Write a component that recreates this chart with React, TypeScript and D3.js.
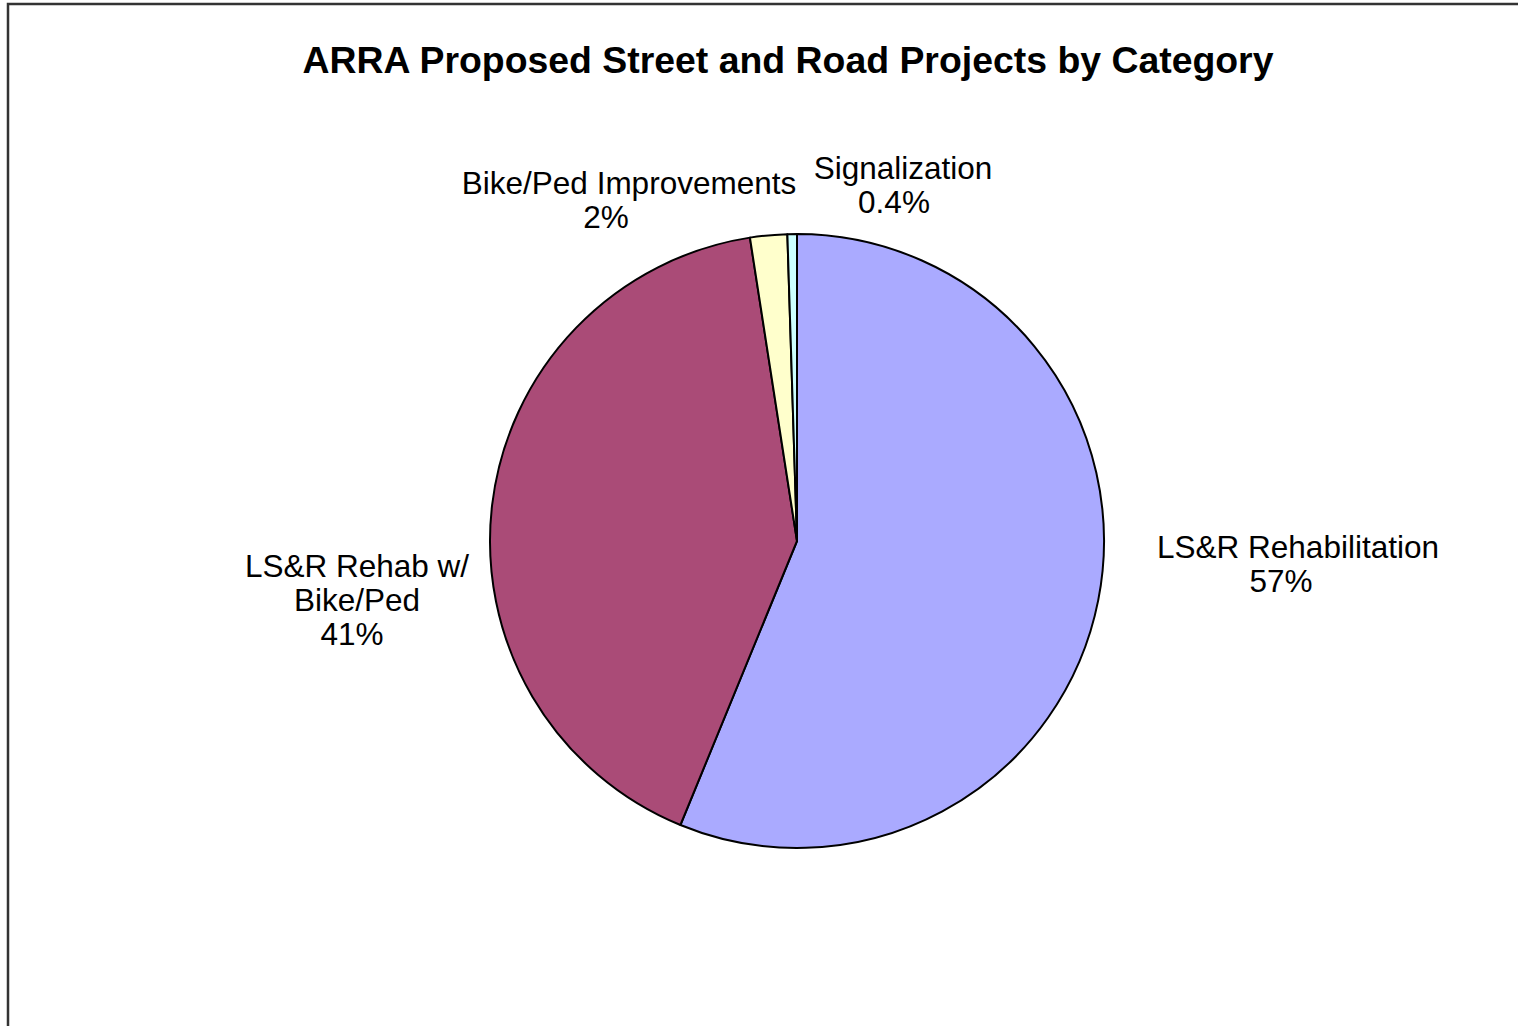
import * as d3 from "d3";

// slice values (angles), with the percentages the chart prints
const categories = ["LS&R Rehabilitation", "LS&R Rehab w/ Bike/Ped", "Bike/Ped Improvements", "Signalization"];
const nameLines = [["LS&R Rehabilitation"], ["LS&R Rehab w/", "Bike/Ped"], ["Bike/Ped Improvements"], ["Signalization"]];
const values = [56.2, 41.35, 1.95, 0.5];
const pctLabels = ["57%", "41%", "2%", "0.4%"];
const colors = ["#AAAAFF", "#AA4B77", "#FFFFCC", "#CCFFFF"];

const W = 1518, H = 1026;
const CX = 797, CY = 541, R = 307;
const FONT = "'Liberation Sans', Arial, sans-serif";
const LINE = 34;

// label block placement relative to pie centre: first baseline + shift of the % line
const labelLayout = [
  { dx: 501, dy: 17, pctDx: -17 },
  { dx: -440, dy: 36, pctDx: -5 },
  { dx: -168, dy: -347, pctDx: -23 },
  { dx: 106, dy: -362, pctDx: -9 },
];

export default function App() {
  const data = categories.map((c, i) => ({ name: c, value: values[i], i }));
  const pie = d3.pie<(typeof data)[number]>().sort(null).value((d) => d.value);
  const arcs = pie(data);
  const arc = d3.arc<d3.PieArcDatum<(typeof data)[number]>>().innerRadius(0).outerRadius(R);

  return (
    <>
      <style>{`body{margin:0;}`}</style>
      <svg width={W} height={H} style={{ display: "block" }}>
        <rect x={0} y={0} width={W} height={H} fill="#fff" />
        <rect x={8} y={4} width={W + 20} height={H + 20} fill="none" stroke="#333" strokeWidth={2.5} />
        <text x={788} y={73} textAnchor="middle" fontFamily={FONT} fontWeight="bold" fontSize={37.4}>
          ARRA Proposed Street and Road Projects by Category
        </text>
        <g transform={`translate(${CX},${CY})`}>
          {arcs.map((a) => (
            <path key={a.data.name} d={arc(a) || ""} fill={colors[a.data.i]} stroke="#000" strokeWidth={2} strokeLinejoin="round" />
          ))}
        </g>
        {arcs.map((a) => {
          const l = labelLayout[a.data.i];
          const lines = nameLines[a.data.i];
          const x = CX + l.dx;
          const y0 = CY + l.dy;
          return (
            <text key={a.data.name} fontFamily={FONT} fontSize={31.5} textAnchor="middle" fill="#000">
              {lines.map((t, j) => (
                <tspan key={j} x={x} y={y0 + j * LINE}>{t}</tspan>
              ))}
              <tspan x={x + l.pctDx} y={y0 + lines.length * LINE}>{pctLabels[a.data.i]}</tspan>
            </text>
          );
        })}
      </svg>
    </>
  );
}
